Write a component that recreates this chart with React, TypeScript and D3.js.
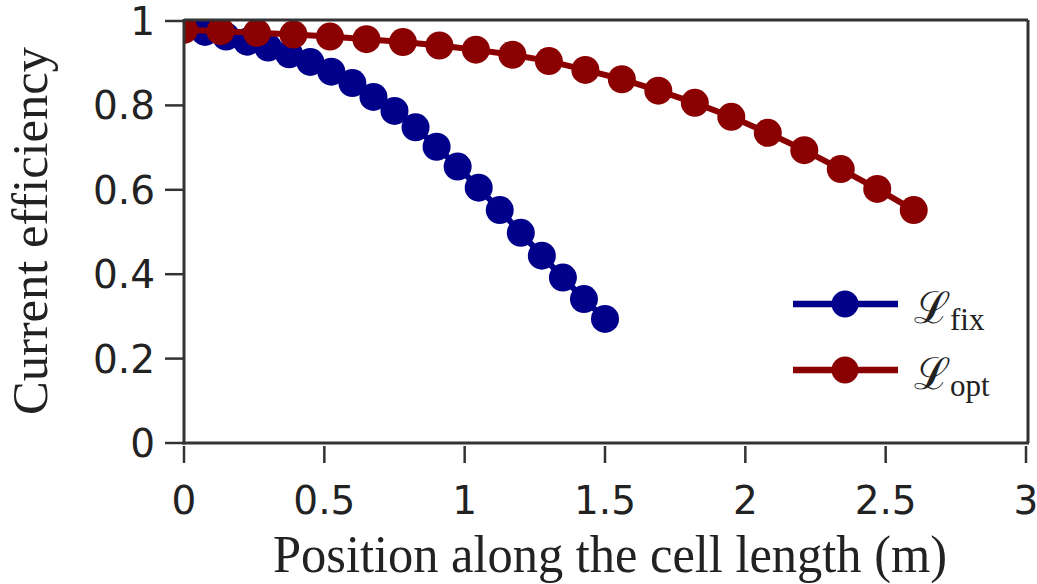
import React from "react";
import * as d3 from "d3";

const fixX: number[] = [0, 0.075, 0.15, 0.225, 0.3, 0.375, 0.45, 0.525, 0.6, 0.675, 0.75, 0.825, 0.9, 0.975, 1.05, 1.125, 1.2, 1.275, 1.35, 1.425, 1.5];
const fixY: number[] = [0.981, 0.974, 0.963, 0.951, 0.937, 0.921, 0.903, 0.88, 0.853, 0.82, 0.787, 0.748, 0.702, 0.655, 0.605, 0.552, 0.498, 0.444, 0.392, 0.341, 0.294];
const optX: number[] = [0, 0.13, 0.26, 0.39, 0.52, 0.65, 0.78, 0.91, 1.04, 1.17, 1.3, 1.43, 1.56, 1.69, 1.82, 1.95, 2.08, 2.21, 2.34, 2.47, 2.6];
const optY: number[] = [0.979, 0.976, 0.972, 0.968, 0.963, 0.957, 0.95, 0.942, 0.932, 0.92, 0.905, 0.884, 0.862, 0.835, 0.806, 0.773, 0.735, 0.694, 0.649, 0.602, 0.552];
const xTicks: number[] = [0, 0.5, 1, 1.5, 2, 2.5, 3];
const yTicks: number[] = [0, 0.2, 0.4, 0.6, 0.8, 1];
const xTickLabels: string[] = ["0", "0.5", "1", "1.5", "2", "2.5", "3"];
const yTickLabels: string[] = ["0", "0.2", "0.4", "0.6", "0.8", "1"];

const series = [
  { name: "fix", xs: fixX, ys: fixY, color: "#00008b" },
  { name: "opt", xs: optX, ys: optY, color: "#8b0000" },
];

export default function App() {
  const W = 1037, H = 584;
  const left = 184, right = 1026, top = 21, bottom = 443;
  const x = d3.scaleLinear().domain([0, 3]).range([left, right]);
  const y = d3.scaleLinear().domain([0, 1]).range([bottom, top]);
  const line = d3.line<[number, number]>().x(d => x(d[0])).y(d => y(d[1]));
  const axisColor = "#333";
  const tickFont = "'DejaVu Sans', sans-serif";
  const serif = "'Liberation Serif', 'Times New Roman', serif";
  const legendY = [304, 370];
  return (
    <svg width={W} height={H} style={{ position: "absolute", left: 0, top: 0, background: "#fff" }}>
      <defs>
        <clipPath id="plotclip">
          <rect x={left} y={top} width={right - left} height={bottom - top} />
        </clipPath>
      </defs>
      <g clipPath="url(#plotclip)">
        {series.map(s => {
          const pts: [number, number][] = s.xs.map((v, i) => [v, s.ys[i]]);
          return (
            <g key={s.name}>
              <path d={line(pts) || ""} fill="none" stroke={s.color} strokeWidth={6} />
              {pts.map((p, i) => (
                <circle key={i} cx={x(p[0])} cy={y(p[1])} r={14} fill={s.color} />
              ))}
            </g>
          );
        })}
      </g>
      {/* frame */}
      <line x1={left} y1={top - 1} x2={right + 2} y2={top - 1} stroke={axisColor} strokeWidth={3} />
      <line x1={right + 2} y1={top - 1} x2={right + 2} y2={bottom} stroke={axisColor} strokeWidth={3} />
      <line x1={left} y1={top - 2} x2={left} y2={bottom + 1.5} stroke={axisColor} strokeWidth={3} />
      <line x1={left - 1.5} y1={bottom} x2={right + 3} y2={bottom} stroke={axisColor} strokeWidth={3} />
      {/* y ticks */}
      {yTicks.map((t, i) => (
        <g key={"y" + i}>
          <line x1={165} x2={left} y1={y(t)} y2={y(t)} stroke={axisColor} strokeWidth={2.5} />
          <text x={155} y={y(t)} dy="0.36em" textAnchor="end" fontFamily={tickFont} fontSize={39} fill="#222">{yTickLabels[i]}</text>
        </g>
      ))}
      {/* x ticks */}
      {xTicks.map((t, i) => (
        <g key={"x" + i}>
          <line x1={x(t)} x2={x(t)} y1={bottom + 3} y2={463} stroke={axisColor} strokeWidth={2.5} />
          <text x={x(t)} y={514} textAnchor="middle" fontFamily={tickFont} fontSize={39} fill="#222">{xTickLabels[i]}</text>
        </g>
      ))}
      {/* axis titles */}
      <text x={610} y={572} textAnchor="middle" fontFamily={serif} fontSize={52} fill="#222" textLength={674} lengthAdjust="spacingAndGlyphs">Position along the cell length (m)</text>
      <text transform={`translate(47, 231) rotate(-90)`} textAnchor="middle" fontFamily={serif} fontSize={50} fill="#222" textLength={368} lengthAdjust="spacingAndGlyphs">Current efficiency</text>
      {/* legend */}
      {series.map((s, i) => (
        <g key={"lg" + i}>
          <line x1={793} x2={898} y1={legendY[i]} y2={legendY[i]} stroke={s.color} strokeWidth={6.5} />
          <circle cx={845} cy={legendY[i]} r={13.5} fill={s.color} />
          <text x={914} y={legendY[i] + 19} fontFamily="'DejaVu Serif', serif" fill="#222">
            <tspan fontSize={44}>ℒ</tspan>
          </text>
          <text x={950} y={legendY[i] + 26} fontFamily={serif} fontSize={31} fill="#222">{s.name}</text>
        </g>
      ))}
    </svg>
  );
}
